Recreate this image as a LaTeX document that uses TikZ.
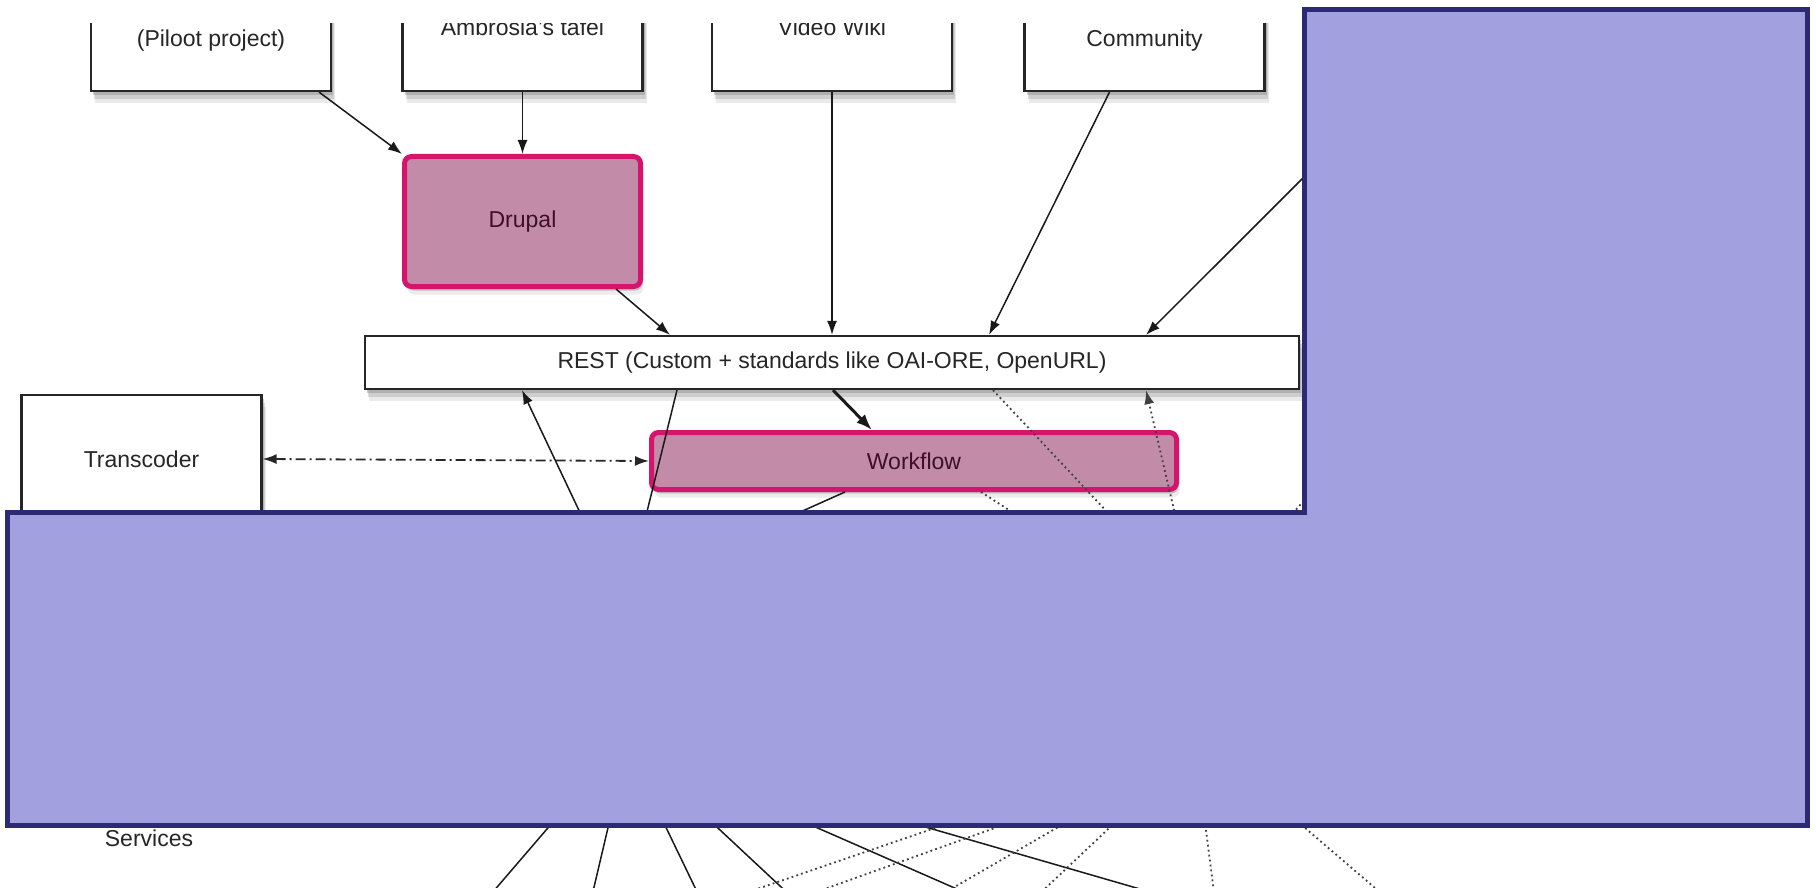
\documentclass[tikz,border=0pt]{standalone}
\usepackage{fontspec}
\setmainfont{Liberation Sans}
\usetikzlibrary{shadows,arrows.meta}
\definecolor{ovfill}{HTML}{A3A0DF}
\definecolor{ovline}{HTML}{2B2A72}
\definecolor{pinkfill}{HTML}{C28CA9}
\definecolor{pinkline}{HTML}{D5146D}
\definecolor{boxline}{HTML}{262626}
\definecolor{hltext}{HTML}{3D0F2A}
\begin{document}
\begin{tikzpicture}[x=1pt,y=-1pt,
  every node/.style={font=\fontsize{23}{27}\selectfont, text=black!85},
  shade1/.style={drop shadow={opacity=0.38, shadow xshift=2pt, shadow yshift=-4pt}},
  box/.style={draw=boxline, line width=2.2pt, fill=white, inner sep=0pt, outer sep=1.1pt,
              drop shadow={opacity=0.16, shadow xshift=4pt, shadow yshift=-12pt},
              drop shadow={opacity=0.26, shadow xshift=3pt, shadow yshift=-8pt},
              shade1},
  hl/.style={draw=pinkline, line width=5pt, fill=pinkfill, rounded corners=7pt, inner sep=0pt,
             outer sep=2.5pt, text=hltext,
             drop shadow={opacity=0.15, shadow xshift=3pt, shadow yshift=-8pt}, shade1},
  tip/.style={-{Latex[length=14pt,width=10pt]}},
  conn/.style={line width=1.5pt, draw=black!90, tip},
  plain/.style={line width=1.5pt, draw=black!90},
  dots/.style={line width=1.8pt, draw=black!75, dash pattern=on 1.8pt off 3.2pt},
  dashdot/.style={line width=1.8pt, draw=black!85, dash pattern=on 10pt off 4pt on 2pt off 4pt,
                  {Latex[length=14pt,width=10pt]}-{Latex[length=14pt,width=10pt]}},
  overlay box/.style={fill=ovfill, draw=ovline, line width=5pt, line join=miter}
]
\useasboundingbox (0,0) rectangle (1816,888);
\fill[white] (0,0) rectangle (1816,888);
\begin{scope}
\clip (0,24) rectangle (1816,888);
% top boxes
\node[box, minimum width=240pt, minimum height=101pt] (b1) at (211,40.5) {(Piloot project)};
\node[box, minimum width=240pt, minimum height=101pt] (b2) at (522.5,40.5) {\smash{\raisebox{4.5pt}{Ambrosia's tafel}}};
\node[box, minimum width=240pt, minimum height=101pt] (b3) at (832,40.5) {\smash{\raisebox{4.5pt}{Video Wiki}}};
\node[box, minimum width=240pt, minimum height=101pt] (b4) at (1144.5,40.5) {Community};
% main nodes
\node[hl, minimum width=236pt, minimum height=130pt] (drupal) at (522.5,221.5) {Drupal};
\node[box, minimum width=934pt, minimum height=53pt] (rest) at (832,362.5) {REST (Custom + standards like OAI-ORE, OpenURL)};
\node[box, minimum width=240pt, minimum height=128pt] (trans) at (141.5,459) {Transcoder};
\node[hl, minimum width=525pt, minimum height=57pt] (wf) at (914,461) {Workflow};
\node (services) at (149,838) {Services};
% free ends
\coordinate (c5) at (1400,81);
\coordinate (c8) at (593,540);
\coordinate (c9) at (640,540);
\coordinate (c10) at (760,530);
\coordinate (da) at (1140,547);
\coordinate (db) at (1040,530);
\coordinate (dc) at (1181,540);
\coordinate (dd1) at (1270,540);
\coordinate (dd2) at (1330,470);
% connectors
\draw[conn] ([xshift=-13pt]b1.south east) -- (drupal.north west);
\draw[conn] (b2.south) -- (drupal.north);
\draw[conn] (b3.south) -- (rest.north);
\draw[conn] ([xshift=-35pt]b4.south) -- ([xshift=157pt]rest.north);
\draw[conn] (c5) -- ([xshift=314pt]rest.north);
\draw[conn] ([xshift=-27pt]drupal.south east) -- ([xshift=-162pt]rest.north);
\draw[line width=3pt, draw=black!90, -{Latex[length=16pt,width=12pt]}] ([xshift=1pt]rest.south) -- ([xshift=-42pt]wf.north);
\draw[conn] (c8) -- ([xshift=-310pt]rest.south);
\draw[plain] ([xshift=-155pt]rest.south) -- (c9);
\draw[plain] ([xshift=-69pt]wf.south) -- (c10);
\draw[dashdot] (trans.east) -- (wf.west);
\draw[dots] ([xshift=161pt]rest.south) -- (da);
\draw[dots] ([xshift=67pt]wf.south) -- (db);
\draw[dots, tip] (dc) -- ([xshift=314pt]rest.south);
\draw[dots] (dd1) -- (dd2);
% lower lines (ends hidden under the overlay / beyond the edge)
\coordinate (s1a) at (559,815); \coordinate (s1b) at (486,900);
\coordinate (s2a) at (611,815); \coordinate (s2b) at (591,900);
\coordinate (s3a) at (660,815); \coordinate (s3b) at (701,900);
\coordinate (s4a) at (704,815); \coordinate (s4b) at (795,900);
\coordinate (s5a) at (788,815); \coordinate (s5b) at (982,900);
\coordinate (s6a) at (884,815); \coordinate (s6b) at (1178,900);
\draw[plain] (s1a) -- (s1b);
\draw[plain] (s2a) -- (s2b);
\draw[plain] (s3a) -- (s3b);
\draw[plain] (s4a) -- (s4b);
\draw[plain] (s5a) -- (s5b);
\draw[plain] (s6a) -- (s6b);
\coordinate (d1a) at (973,815); \coordinate (d1b) at (725,900);
\coordinate (d2a) at (1031,815); \coordinate (d2b) at (794,900);
\coordinate (d3a) at (1079,815); \coordinate (d3b) at (932,900);
\coordinate (d4a) at (1123,815); \coordinate (d4b) at (1033,900);
\coordinate (d5a) at (1204,815); \coordinate (d5b) at (1215,900);
\coordinate (d6a) at (1290,815); \coordinate (d6b) at (1389,900);
\draw[dots] (d1a) -- (d1b);
\draw[dots] (d2a) -- (d2b);
\draw[dots] (d3a) -- (d3b);
\draw[dots] (d4a) -- (d4b);
\draw[dots] (d5a) -- (d5b);
\draw[dots] (d6a) -- (d6b);
\end{scope}
% overlay
\draw[overlay box] (7.5,512.5) -- (1304.5,512.5) -- (1304.5,9.5) -- (1807,9.5) -- (1807,825.5) -- (7.5,825.5) -- cycle;
\end{tikzpicture}
\end{document}
